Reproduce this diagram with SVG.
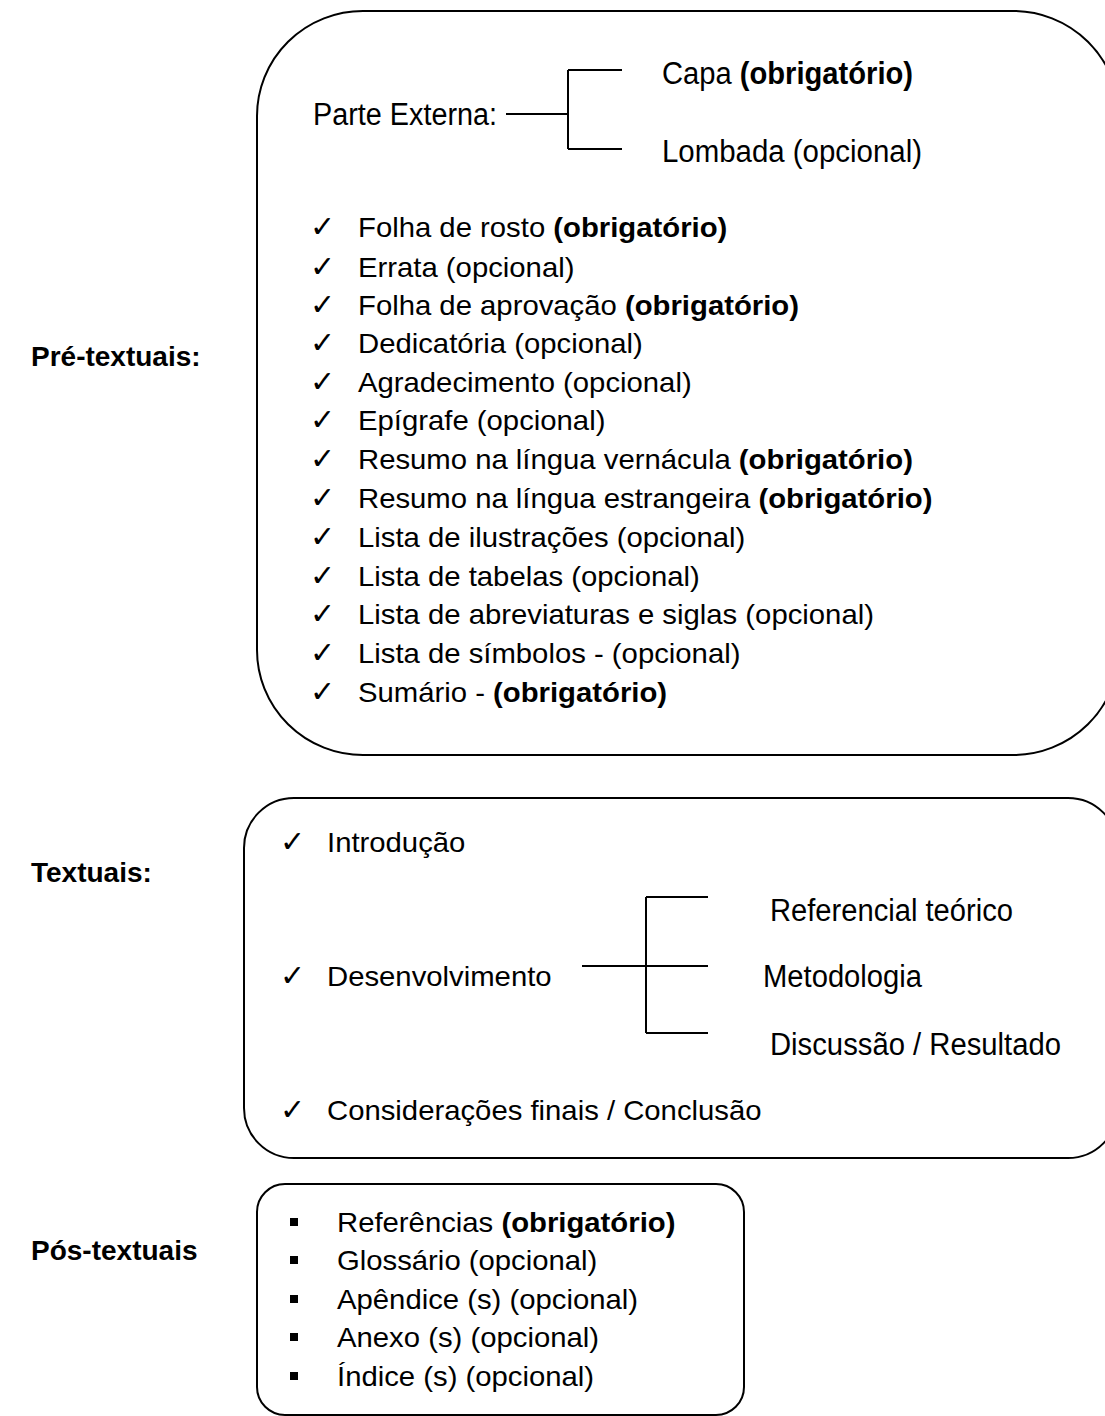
<svg xmlns="http://www.w3.org/2000/svg" width="1105" height="1416" viewBox="0 0 1105 1416">
<style>
.box{fill:none;stroke:#000;stroke-width:2}
.ln{stroke:#000;stroke-width:2;fill:none}
.t{font-family:"Liberation Sans",Arial,sans-serif;font-size:27px;fill:#000}
.n{font-family:"Liberation Sans",Arial,sans-serif;font-size:31px;fill:#000}
.b{font-weight:bold}
.lab{font-family:"Liberation Sans",Arial,sans-serif;font-size:28px;font-weight:bold;fill:#000}
.ck{font-family:"DejaVu Sans",sans-serif;font-size:30px;fill:#000}
.sq{fill:#000}
</style>
<rect width="1105" height="1416" fill="#fff"/>
<g id="label-pre"><text class="lab" x="31" y="366">Pré-textuais:</text></g>
<g id="label-textuais"><text class="lab" x="31" y="882">Textuais:</text></g>
<g id="label-pos"><text class="lab" x="31" y="1260">Pós-textuais</text></g>

<g id="box-pre">
<rect class="box" x="257" y="11" width="862" height="744" rx="106" ry="105"/>
<text class="n" x="313" y="125" textLength="184" lengthAdjust="spacingAndGlyphs">Parte Externa:</text>
<text class="n" x="662" y="84" textLength="251" lengthAdjust="spacingAndGlyphs">Capa <tspan class="b">(obrigatório)</tspan></text>
<text class="n" x="662" y="162" textLength="260" lengthAdjust="spacingAndGlyphs">Lombada (opcional)</text>
<g class="ck">
<text x="310" y="237">✓</text><text x="310" y="277">✓</text><text x="310" y="315">✓</text><text x="310" y="353">✓</text><text x="310" y="392">✓</text><text x="310" y="430">✓</text><text x="310" y="469">✓</text><text x="310" y="508">✓</text><text x="310" y="547">✓</text><text x="310" y="586">✓</text><text x="310" y="624">✓</text><text x="310" y="663">✓</text><text x="310" y="702">✓</text>
</g>
<g class="t" transform="translate(358 0) scale(1.085 1) translate(-358 0)">
<text x="358" y="237">Folha de rosto <tspan class="b">(obrigatório)</tspan></text>
<text x="358" y="277">Errata (opcional)</text>
<text x="358" y="315">Folha de aprovação <tspan class="b">(obrigatório)</tspan></text>
<text x="358" y="353">Dedicatória (opcional)</text>
<text x="358" y="392">Agradecimento (opcional)</text>
<text x="358" y="430">Epígrafe (opcional)</text>
<text x="358" y="469">Resumo na língua vernácula <tspan class="b">(obrigatório)</tspan></text>
<text x="358" y="508">Resumo na língua estrangeira <tspan class="b">(obrigatório)</tspan></text>
<text x="358" y="547">Lista de ilustrações (opcional)</text>
<text x="358" y="586">Lista de tabelas (opcional)</text>
<text x="358" y="624">Lista de abreviaturas e siglas (opcional)</text>
<text x="358" y="663">Lista de símbolos - (opcional)</text>
<text x="358" y="702">Sumário - <tspan class="b">(obrigatório)</tspan></text>
</g>
</g>

<g id="box-textuais">
<rect class="box" x="244" y="798" width="874" height="360" rx="50" ry="50"/>
<g class="ck"><text x="280" y="852">✓</text><text x="280" y="986">✓</text><text x="280" y="1120">✓</text></g>
<g class="t" transform="translate(327 0) scale(1.085 1) translate(-327 0)">
<text x="327" y="852">Introdução</text>
<text x="327" y="986">Desenvolvimento</text>
<text x="327" y="1120">Considerações finais / Conclusão</text>
</g>
<g class="n">
<text x="770" y="921" textLength="243" lengthAdjust="spacingAndGlyphs">Referencial teórico</text>
<text x="763" y="987" textLength="159" lengthAdjust="spacingAndGlyphs">Metodologia</text>
<text x="770" y="1055" textLength="291" lengthAdjust="spacingAndGlyphs">Discussão / Resultado</text>
</g>
</g>

<g id="box-pos">
<rect class="box" x="257" y="1184" width="487" height="231" rx="28" ry="28"/>
<g class="sq">
<rect x="290" y="1218" width="8" height="8"/><rect x="290" y="1256" width="8" height="8"/><rect x="290" y="1295" width="8" height="8"/><rect x="290" y="1333" width="8" height="8"/><rect x="290" y="1372" width="8" height="8"/>
</g>
<g class="t" transform="translate(337 0) scale(1.085 1) translate(-337 0)">
<text x="337" y="1232">Referências <tspan class="b">(obrigatório)</tspan></text>
<text x="337" y="1270">Glossário (opcional)</text>
<text x="337" y="1309">Apêndice (s) (opcional)</text>
<text x="337" y="1347">Anexo (s) (opcional)</text>
<text x="337" y="1386">Índice (s) (opcional)</text>
</g>
</g>

<g id="connectors">
<line class="ln" x1="506" y1="114" x2="568" y2="114"/>
<line class="ln" x1="568" y1="70" x2="568" y2="149"/>
<line class="ln" x1="568" y1="70" x2="622" y2="70"/>
<line class="ln" x1="568" y1="149" x2="622" y2="149"/>
<line class="ln" x1="582" y1="966" x2="708" y2="966"/>
<line class="ln" x1="646" y1="897" x2="646" y2="1033"/>
<line class="ln" x1="646" y1="897" x2="708" y2="897"/>
<line class="ln" x1="646" y1="1033" x2="708" y2="1033"/>
</g>
</svg>
